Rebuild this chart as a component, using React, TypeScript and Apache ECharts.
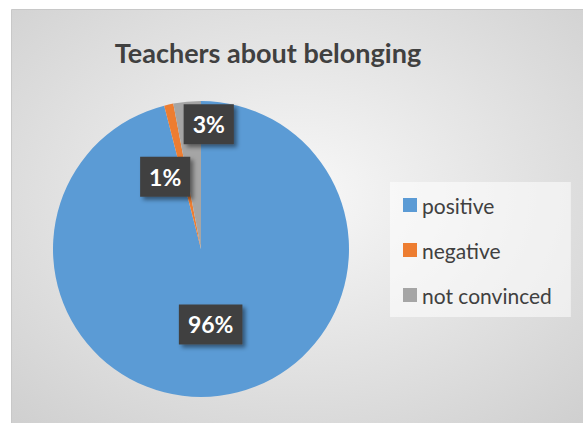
import React, { useEffect, useRef } from "react";
import * as echarts from "echarts";

const categories = ["positive", "negative", "not convinced"];
const values = [96, 1, 3];
const colors = ["#5b9bd5", "#ed7d31", "#a5a5a5"];
const labelOffsets: [number, number][] = [[0, -1], [-19, 3], [15, -48]];

export default function App() {
  const ref = useRef<HTMLDivElement>(null);
  useEffect(() => {
    if (!ref.current) return;
    const chart = echarts.init(ref.current, null, { renderer: "svg" });
    const font = "Lato, 'Open Sans', sans-serif";
    chart.setOption({
      animation: false,
      backgroundColor: "#ffffff",
      title: {
        text: "Teachers about belonging",
        left: 263,
        top: 34,
        textAlign: "center",
        textStyle: { fontFamily: font, fontWeight: "bold", fontSize: 27, color: "#404040" },
      },
      graphic: [
        {
          type: "rect",
          left: 11,
          top: 9,
          z: -10,
          shape: { width: 572, height: 414 },
          style: {
            fill: {
              type: "radial",
              x: 0.5,
              y: 0.45,
              r: 0.95,
              colorStops: [
                { offset: 0, color: "#f8f8f8" },
                { offset: 1, color: "#c4c4c4" },
              ],
            },
            stroke: "#c8c8c8",
            lineWidth: 1,
          },
        },
      ],
      legend: {
        orient: "vertical",
        left: 390,
        top: 182,
        data: categories,
        icon: "rect",
        itemWidth: 14,
        itemHeight: 14,
        itemGap: 21,
        padding: [11, 19, 10, 13],
        backgroundColor: "rgba(255,255,255,0.55)",
        textStyle: { fontFamily: font, fontSize: 21, color: "#404040", lineHeight: 24 },
      },
      series: [
        {
          type: "pie",
          center: [201, 249],
          radius: 148,
          startAngle: 90,
          clockwise: true,
          label: {
            show: true,
            position: "inside",
            formatter: "{d}%",
            fontFamily: font,
            fontWeight: "bold",
            fontSize: 23,
            lineHeight: 22,
            color: "#ffffff",
            backgroundColor: "#404040",
            padding: [9, 9, 9, 9],
            shadowColor: "rgba(0,0,0,0.45)",
            shadowBlur: 4,
            shadowOffsetX: 3,
            shadowOffsetY: 3,
          },
          labelLine: { show: false },
          emphasis: { disabled: true },
          data: categories.map((name, i) => ({
            name,
            value: values[i],
            itemStyle: { color: colors[i] },
            label: { offset: labelOffsets[i] },
          })),
        },
      ],
    });
    return () => chart.dispose();
  }, []);
  return (
    <div
      ref={ref}
      style={{ position: "absolute", left: 0, top: 0, width: 583, height: 423 }}
    />
  );
}
